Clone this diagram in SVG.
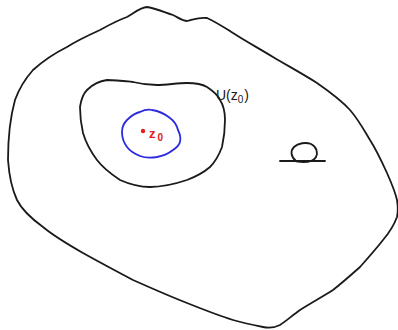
<svg xmlns="http://www.w3.org/2000/svg" width="398" height="330" viewBox="0 0 398 330">
<style>
.k{fill:none;stroke:#1a1a1a;stroke-width:1.8;stroke-linejoin:round;stroke-linecap:round}
.b{fill:none;stroke:#2a2ae0;stroke-width:1.8;stroke-linejoin:round}
.t{font-family:"Liberation Sans",Arial,sans-serif;font-size:14px;fill:#1a1a1a}
.r{font-family:"Liberation Sans",Arial,sans-serif;font-size:13px;font-weight:bold;fill:#e02020}
</style>
<rect width="398" height="330" fill="#fff"/>
<g id="outer">
<path class="k" d="M147,7 C158,9 166,13 173,15 C179,18 183,21 187,21 C195,19 200,17 207,18 C216,22 225,28 233,33 C247,42 260,49 273,57 C288,66 303,74 317,83 C330,92 341,100 350,110 C358,119 364,130 370,140 C377,151 382,162 387,173 C391,182 395,191 397,200 C398,206 398,212 397,217 C394,225 389,233 383,240 C376,249 368,258 360,267 C351,275 342,283 333,290 C322,297 311,303 300,310 C293,315 286,321 280,325 C274,328 268,328 263,327 C253,325 243,323 233,320 C217,315 202,309 187,303 C169,296 151,288 133,280 C116,271 99,262 83,253 C69,245 55,237 43,227 C32,219 22,210 17,200 C11,187 9,174 8,160 C8,140 10,118 15,100 C19,89 25,79 33,70 C43,61 55,53 67,47 C78,40 89,35 100,30 C109,25 118,20 127,17 C134,13 141,7 147,7 Z"/>
</g>
<g id="neighborhood">
<path class="k" d="M80,107 C81,100 83,94 87,90 C93,84 99,81 107,80 C116,80 124,81 133,82 C141,84 149,85 157,85 C167,85 177,83 187,83 C195,83 202,84 207,87 C213,91 218,95 220,100 C224,106 225,113 225,120 C225,129 224,138 222,147 C219,155 215,162 210,167 C203,173 195,177 187,180 C175,184 162,187 150,187 C139,187 129,184 120,180 C111,174 103,168 97,160 C91,152 86,143 83,133 C81,124 80,115 80,107 Z"/>
<text class="t" x="216" y="100">U(z<tspan font-size="10" dy="3">0</tspan><tspan dx="1" dy="-3">)</tspan></text>
</g>
<g id="disc">
<path class="b" d="M122,132 C122,127 124,123 127,120 C131,116 135,113 140,112 C144,110 148,109 152,110 C159,111 165,114 170,118 C174,121 177,126 178,130 C180,134 181,138 180,142 C179,146 176,148 173,150 C168,154 162,156 157,157 C151,158 145,158 140,156 C135,154 130,151 127,147 C124,143 122,137 122,132 Z"/>
<circle cx="143" cy="131" r="2.2" fill="#e02020"/>
<text class="r" x="149" y="138">z<tspan font-size="10" dx="2" dy="3">0</tspan></text>
</g>
<g id="loop">
<path class="k" d="M280,161 L325,161"/>
<path class="k" d="M296,161 C291,157 290,151 294,147 C298,143 306,142 311,144 C317,147 318,153 316,157 C314,161 309,162 303,162 C300,162 297,162 294,161"/>
</g>
</svg>
